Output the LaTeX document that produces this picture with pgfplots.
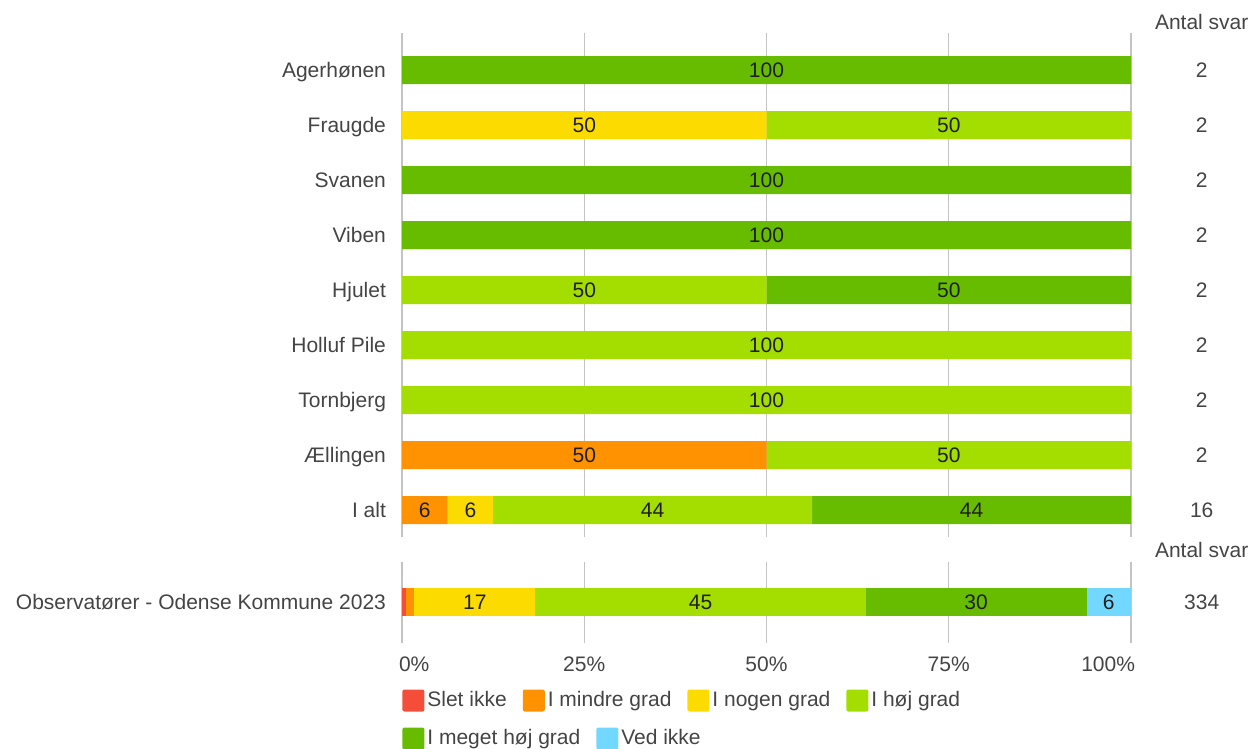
\documentclass[border=0pt]{standalone}
\usepackage{pgfplots}
\pgfplotsset{compat=1.18}
\usepackage{fontspec}
\setmainfont{Liberation Sans}
\definecolor{cSlet}{HTML}{F44E3B}
\definecolor{cMindre}{HTML}{FE9200}
\definecolor{cNogen}{HTML}{FCDC00}
\definecolor{cHoj}{HTML}{A4DD00}
\definecolor{cMeget}{HTML}{68BC00}
\definecolor{cVed}{HTML}{73D8FF}
\definecolor{txt}{HTML}{444444}
\definecolor{gridc}{HTML}{C4C4C4}
\definecolor{axc}{HTML}{A8A8A8}
\tikzset{cnt/.style={text=txt, font=\fontsize{10.5}{12.5}\selectfont}}
\pgfplotsset{
  base/.style={
    xbar stacked, bar width=14pt, scale only axis, width=364.5pt,
    xmin=0, xmax=100, clip=false,
    axis line style={draw=none}, major tick length=0pt,
    xtick={25,50,75,100}, xmajorgrids,
    major grid style={gridc, line width=0.7pt},
    extra x ticks={0},
    extra x tick style={grid style={axc, line width=1pt}},
    font=\fontsize{10.5}{12.5}\selectfont,
    tick label style={text=txt},
    /pgf/number format/assume math mode=true,
    yticklabel style={xshift=-4.5pt, text height=0.72em, text depth=0pt},
    legend image code/.code={\fill[##1, rounded corners=1pt] (0pt,-5.5pt) rectangle (11pt,5.5pt);},
    legend style={draw=none, fill=none, inner sep=0pt, font=\fontsize{10.5}{12.5}\selectfont, text=txt,
      /tikz/every even column/.append style={column sep=6.5pt},
      nodes={inner sep=1.5pt}},
    legend cell align=left,
  },
  lab/.style={
    point meta=rawx,
    nodes near coords={\pgfmathfloatifflags{\pgfplotspointmeta}{0}{}{\pgfmathprintnumber[fixed,precision=0]{\pgfplotspointmeta}}},
    every node near coord/.append style={text=black!88, font=\fontsize{10.5}{12.5}\selectfont},
  },
}
\begin{document}
\begin{tikzpicture}
\path[use as bounding box] (0,0) rectangle (626.5pt,374.5pt);
% top axis
\begin{axis}[base,
  at={(201pt,106pt)}, anchor=south west, height=252pt,
  y dir=reverse, ymin=-0.673, ymax=8.49,
  xticklabels={}, extra x tick labels={},
  ytick={0,...,8},
  yticklabels={Agerhønen,Fraugde,Svanen,Viben,Hjulet,Holluf Pile,Tornbjerg,Ællingen,I alt},
]
\addplot[fill=cMindre, draw=none, lab] coordinates {(0,0)(0,1)(0,2)(0,3)(0,4)(0,5)(0,6)(50,7)(6.25,8)};
\addplot[fill=cNogen, draw=none, lab] coordinates {(0,0)(50,1)(0,2)(0,3)(0,4)(0,5)(0,6)(0,7)(6.25,8)};
\addplot[fill=cHoj, draw=none, lab] coordinates {(0,0)(50,1)(0,2)(0,3)(50,4)(100,5)(100,6)(50,7)(43.75,8)};
\addplot[fill=cMeget, draw=none, lab] coordinates {(100,0)(0,1)(100,2)(100,3)(50,4)(0,5)(0,6)(0,7)(43.75,8)};
\node[cnt] at (axis cs:109.7,-0.873) {Antal svar};
\node[cnt] at (axis cs:109.7,0) {2};
\node[cnt] at (axis cs:109.7,1) {2};
\node[cnt] at (axis cs:109.7,2) {2};
\node[cnt] at (axis cs:109.7,3) {2};
\node[cnt] at (axis cs:109.7,4) {2};
\node[cnt] at (axis cs:109.7,5) {2};
\node[cnt] at (axis cs:109.7,6) {2};
\node[cnt] at (axis cs:109.7,7) {2};
\node[cnt] at (axis cs:109.7,8) {16};
\end{axis}
% bottom axis
\begin{axis}[base,
  at={(201pt,53pt)}, anchor=south west, height=40.5pt,
  ymin=-1, ymax=1,
  xticklabels={25\%,50\%,75\%,\makebox[0pt][r]{100\%\hspace*{-2pt}}},
  extra x tick labels={\makebox[0pt][l]{\hspace*{-1.5pt}0\%}},
  xticklabel style={yshift=-3.5pt},
  ytick={0}, yticklabels={Observatører - Odense Kommune 2023},
  legend style={at={(0,0)}, anchor=north west, yshift=-22.5pt},
  legend columns=4,
]
\addplot[fill=cSlet, draw=none] coordinates {(0.5,0)};
\addplot[fill=cMindre, draw=none] coordinates {(1.2,0)};
\addplot[fill=cNogen, draw=none, lab] coordinates {(16.6,0)};
\addplot[fill=cHoj, draw=none, lab] coordinates {(45.3,0)};
\addplot[fill=cMeget, draw=none, lab, forget plot] coordinates {(30.3,0)};
\addplot[fill=cVed, draw=none, lab, forget plot] coordinates {(6.1,0)};
\legend{Slet ikke, I mindre grad, I nogen grad, I høj grad}
\node[cnt] at (axis cs:109.7,1.296) {Antal svar};
\node[cnt] at (axis cs:109.7,0) {334};
\end{axis}
% second legend row
\begin{axis}[base,
  at={(201pt,53pt)}, anchor=south west, height=40.5pt,
  hide axis, ymin=-1, ymax=1,
  legend style={at={(0,0)}, anchor=north west, yshift=-41.5pt},
  legend columns=2,
]
\addlegendimage{fill=cMeget, draw=none}
\addlegendentry{I meget høj grad}
\addlegendimage{fill=cVed, draw=none}
\addlegendentry{Ved ikke}
\end{axis}
\end{tikzpicture}
\end{document}
